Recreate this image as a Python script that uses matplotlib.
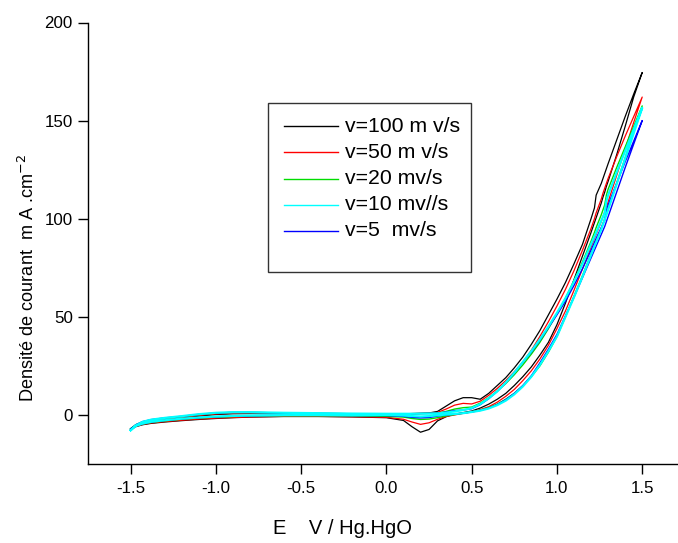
import matplotlib
matplotlib.use("Agg")
import matplotlib.pyplot as plt
from matplotlib.patches import Rectangle
from matplotlib.lines import Line2D

plt.rcParams['font.family'] = ['Liberation Sans', 'DejaVu Sans']
plt.rcParams['axes.unicode_minus'] = False

# Potential grid (V vs Hg/HgO), shared by the anodic and cathodic sweeps
potential = [-1.5, -1.47, -1.43, -1.38, -1.3, -1.2, -1.1, -1.0, -0.9, -0.8,
             -0.6, -0.4, -0.2, 0.0, 0.1, 0.15, 0.2, 0.25, 0.3, 0.35,
             0.4, 0.45, 0.5, 0.55, 0.6, 0.65, 0.7, 0.75, 0.8, 0.85,
             0.9, 0.95, 1.0, 1.05, 1.1, 1.15, 1.2, 1.22, 1.23, 1.26,
             1.27, 1.28, 1.29, 1.3, 1.35, 1.4, 1.45, 1.5]

# Current density (mA/cm2): forward (anodic) sweep, listed along the grid
fwd_100 = [-7.5, -5.5, -4.2, -3.3, -2.4, -1.6, -0.6, 0.2, 0.6, 0.7,
           0.6, 0.5, 0.4, 0.5, 0.6, 0.7, 0.8, 1.0, 1.8, 4.5,
           7.2, 8.8, 8.8, 8.0, 11.0, 15.0, 19.0, 24.0, 29.5, 36.0,
           43.0, 51.0, 59.0, 67.5, 77.0, 87.0, 100.0, 105.5, 112.0, 118.0,
           120.5, 123.0, 125.5, 128.0, 140.0, 152.0, 163.5, 174.5]
fwd_50 = [-7.3, -5.3, -4.0, -3.0, -2.1, -1.3, -0.2, 0.5, 0.9, 1.0,
          0.8, 0.6, 0.5, 0.5, 0.6, 0.7, 0.8, 0.9, 1.3, 3.0,
          5.0, 5.9, 5.6, 7.0, 10.0, 13.5, 17.5, 22.0, 27.0, 33.0,
          40.0, 47.5, 55.5, 64.0, 73.5, 84.0, 95.0, 100.0, 103.0, 110.0,
          113.0, 115.5, 118.0, 120.5, 131.5, 142.0, 152.0, 162.0]
fwd_20 = [-7.0, -5.0, -3.6, -2.6, -1.7, -0.9, 0.2, 0.9, 1.3, 1.3,
          1.0, 0.8, 0.6, 0.6, 0.6, 0.6, 0.7, 0.8, 0.9, 1.8,
          3.0, 3.7, 4.0, 6.0, 8.8, 12.2, 16.0, 20.5, 25.5, 31.0,
          37.0, 44.0, 51.5, 59.5, 68.5, 78.0, 88.5, 93.0, 95.5, 102.0,
          104.5, 107.0, 112.0, 115.0, 126.0, 136.5, 147.0, 157.5]
fwd_10 = [-7.8, -5.4, -3.5, -2.4, -1.5, -0.6, 0.4, 1.1, 1.4, 1.4,
          1.1, 0.9, 0.7, 0.6, 0.6, 0.6, 0.7, 0.7, 0.8, 1.2,
          1.8, 2.5, 3.5, 5.5, 8.5, 12.0, 16.5, 21.5, 27.0, 32.5,
          38.5, 45.0, 52.0, 59.5, 68.0, 77.0, 87.0, 91.0, 93.0, 99.0,
          101.0, 103.0, 109.0, 112.0, 123.5, 134.5, 145.5, 156.5]
fwd_5 = [-7.2, -5.0, -3.4, -2.4, -1.5, -0.7, 0.3, 1.0, 1.3, 1.3,
         1.0, 0.8, 0.6, 0.6, 0.6, 0.6, 0.7, 0.8, 0.9, 1.5,
         2.2, 2.5, 3.2, 5.2, 8.3, 12.0, 16.3, 21.3, 26.8, 32.0,
         38.0, 44.5, 51.0, 58.0, 66.0, 74.5, 84.0, 88.0, 90.0, 95.5,
         97.5, 99.0, 104.5, 107.0, 118.0, 129.0, 139.5, 150.0]

# Current density (mA/cm2): return (cathodic) sweep, listed along the same grid
rev_100 = [-7.5, -6.0, -5.0, -4.3, -3.6, -2.9, -2.3, -1.8, -1.4, -1.1,
           -0.8, -0.8, -1.0, -1.4, -2.8, -6.0, -8.8, -7.4, -3.0, -0.9,
           0.4, 1.2, 2.0, 3.5, 5.5, 8.0, 11.0, 15.0, 19.5, 24.5,
           30.5, 37.0, 46.0, 57.0, 69.0, 81.0, 93.0, 98.0, 100.5, 108.0,
           111.0, 113.5, 116.5, 119.0, 132.5, 147.0, 162.0, 174.5]
rev_50 = [-7.3, -5.8, -4.8, -4.1, -3.4, -2.7, -2.1, -1.6, -1.3, -1.0,
          -0.7, -0.7, -0.9, -1.2, -2.2, -3.6, -4.8, -4.0, -2.2, -0.8,
          0.0, 0.8, 1.6, 2.7, 4.2, 6.5, 9.5, 13.0, 17.5, 22.5,
          28.5, 35.5, 44.0, 53.0, 63.5, 74.5, 85.5, 90.0, 92.0, 98.5,
          101.0, 103.5, 106.0, 108.5, 122.0, 135.5, 149.0, 162.0]
rev_20 = [-7.0, -5.6, -4.6, -3.8, -3.0, -2.2, -1.6, -1.1, -0.8, -0.6,
          -0.4, -0.4, -0.5, -0.7, -1.1, -1.8, -2.3, -2.1, -1.4, -0.5,
          0.2, 0.9, 1.6, 2.5, 3.7, 5.5, 8.0, 11.0, 14.8, 19.5,
          25.0, 32.0, 40.0, 50.0, 60.5, 71.0, 82.0, 86.5, 88.5, 95.0,
          97.5, 100.0, 102.5, 105.0, 118.0, 131.0, 144.0, 157.5]
rev_10 = [-7.8, -5.6, -4.4, -3.5, -2.7, -1.9, -1.3, -0.8, -0.5, -0.3,
          -0.1, -0.1, -0.2, 0.0, -0.3, -0.6, -0.8, -0.6, -0.2, 0.2,
          0.5, 0.9, 1.5, 2.2, 3.3, 5.0, 7.3, 10.5, 14.5, 19.5,
          25.5, 32.5, 40.0, 50.0, 60.0, 70.5, 81.5, 86.0, 88.0, 94.5,
          97.0, 99.5, 102.0, 104.5, 117.5, 130.5, 143.5, 156.5]
rev_5 = [-7.2, -5.6, -4.5, -3.6, -2.8, -2.0, -1.4, -0.9, -0.6, -0.4,
         -0.2, -0.2, -0.3, -0.3, -0.7, -1.2, -1.5, -1.3, -0.6, 0.0,
         0.4, 0.9, 1.5, 2.3, 3.5, 5.3, 7.8, 11.0, 15.0, 20.0,
         26.5, 33.5, 41.0, 50.5, 60.0, 70.0, 80.0, 84.0, 86.0, 92.0,
         94.0, 96.0, 98.5, 101.0, 113.5, 126.0, 138.0, 150.0]

labels = ["v=100 m v/s", "v=50 m v/s", "v=20 mv/s", "v=10 mv//s", "v=5  mv/s"]
colors = ["#000000", "#ff0000", "#00dd00", "#00ffff", "#0000ff"]
widths = [0.9, 0.9, 1.0, 1.6, 1.0]
forward = [fwd_100, fwd_50, fwd_20, fwd_10, fwd_5]
reverse = [rev_100, rev_50, rev_20, rev_10, rev_5]

W, H = 678, 543
fig = plt.figure(figsize=(W / 100, H / 100), dpi=100)
ax = fig.add_axes([88 / W, (H - 464) / H, (W - 88) / W, (464 - 22.5) / H])

# one closed loop per scan rate: forward sweep then back along the grid
loops = {}
for i, (f, r) in enumerate(zip(forward, reverse)):
    e_loop = potential + potential[::-1]
    j_loop = f + r[::-1]
    loops[i] = (e_loop, j_loop)

for i in [0, 1, 2, 4, 3]:
    e_loop, j_loop = loops[i]
    ax.plot(e_loop, j_loop, color=colors[i], lw=widths[i], solid_joinstyle='round')

ax.set_xlim(-1.75, 1.71)
ax.set_ylim(-25, 200)
ax.set_xticks([-1.5, -1.0, -0.5, 0.0, 0.5, 1.0, 1.5])
ax.set_xticklabels(["-1.5", "-1.0", "-0.5", "0.0", "0.5", "1.0", "1.5"])
ax.set_yticks([0, 50, 100, 150, 200])
ax.spines['top'].set_visible(False)
ax.spines['right'].set_visible(False)
for s in ('left', 'bottom'):
    ax.spines[s].set_linewidth(1.0)
ax.tick_params(direction='out', length=7, width=1.0, labelsize=12.2, pad=4)
ax.tick_params(axis='x', pad=5)

# axis titles
fig.text(28 / W, 1 - 278 / H, "Densité de courant  m A .cm$^{-2}$",
         rotation=90, ha='center', va='center', fontsize=13.1)
fig.text(273 / W, 1 - 528 / H, "E    V / Hg.HgO", ha='left', va='center',
         fontsize=14.5)

# legend box with the scan-rate entries
def fx(px):
    return px / W

def fy(py):
    return 1 - py / H

fig.patches.append(Rectangle((fx(268), fy(272)), fx(471) - fx(268), fy(103) - fy(272),
                             transform=fig.transFigure, fill=False,
                             edgecolor='#333333', lw=1.0))
rows = [126, 152.3, 178.5, 204.7, 230.8]
for i, y in enumerate(rows):
    fig.lines.append(Line2D([fx(284), fx(338)], [fy(y), fy(y)],
                            transform=fig.transFigure, color=colors[i], lw=1.0))
    fig.text(fx(345), fy(y), labels[i], ha='left', va='center', fontsize=15.3)

fig.savefig("out.png", dpi=100)
